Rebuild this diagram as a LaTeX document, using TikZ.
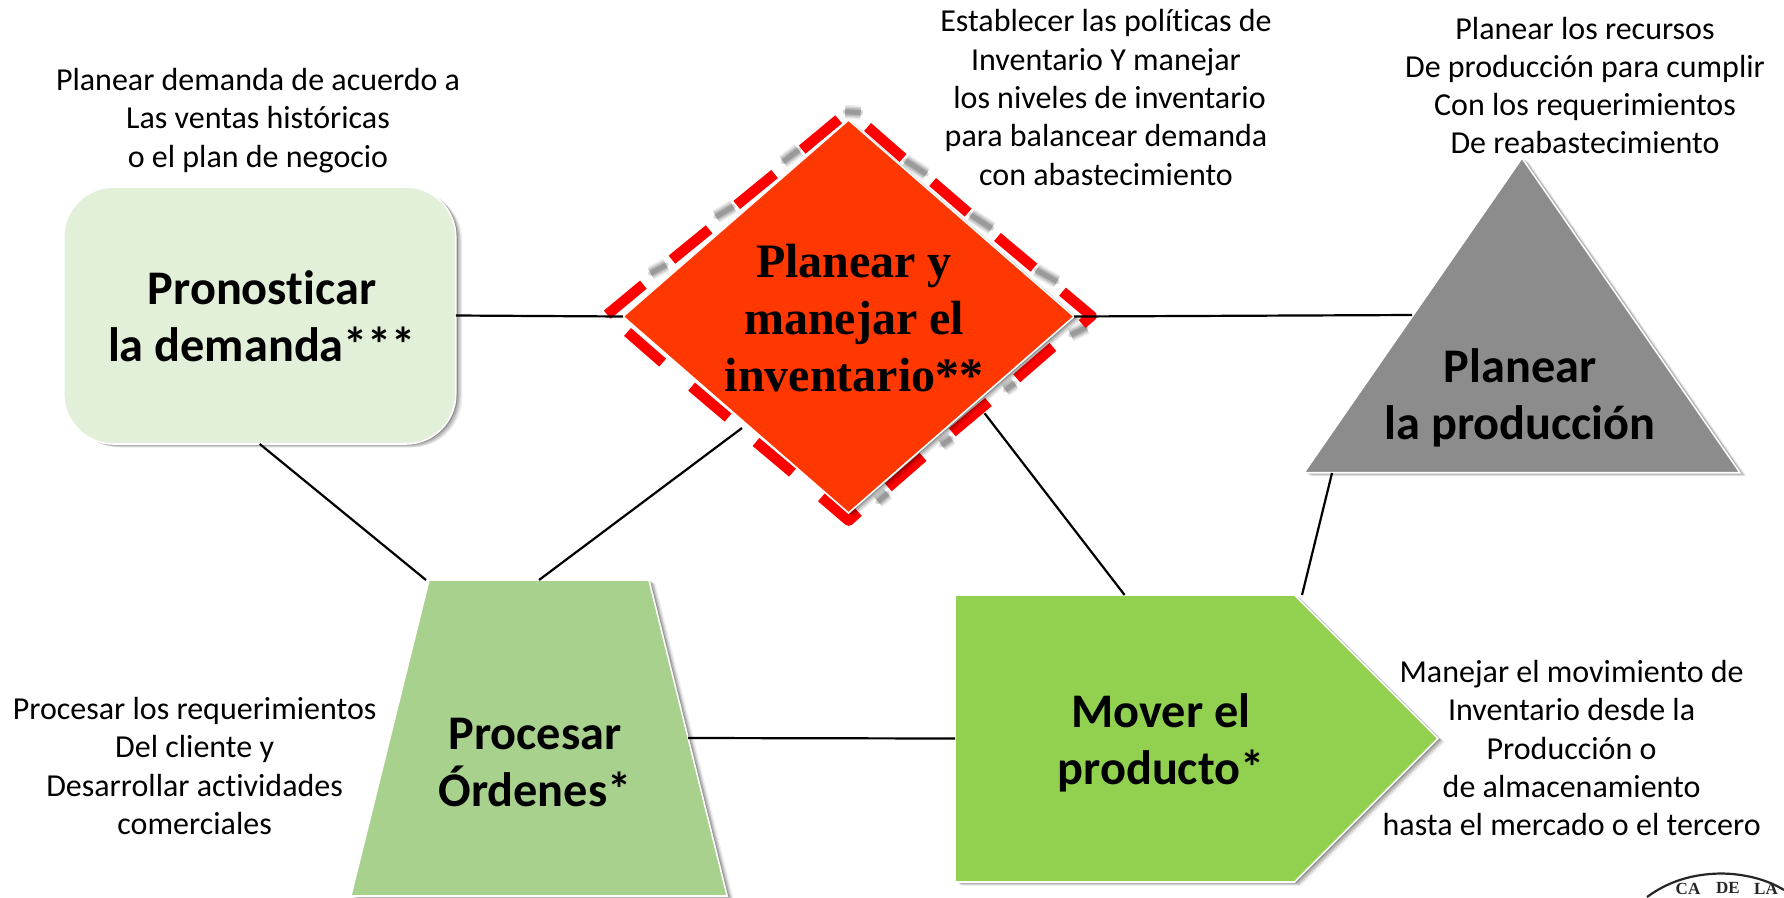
\documentclass[tikz,border=0pt]{standalone}
\usepackage{fontspec}
\setmainfont[Ligatures=NoCommon]{Carlito}
\newfontfamily\serifb{Liberation Serif}
\usetikzlibrary{shapes.geometric,shapes.symbols}
\definecolor{boxgreen}{HTML}{E2EFD9}
\definecolor{diaorange}{HTML}{FF3700}
\definecolor{tragreen}{HTML}{A9D18E}
\definecolor{trigray}{HTML}{8C8C8C}
\definecolor{arrgreen}{HTML}{92D050}
\tikzset{
  softshade/.style={
    preaction={draw=none,fill=black,fill opacity=.07,transform canvas={shift={(6.5pt,-3.5pt)}}},
    preaction={draw=none,fill=black,fill opacity=.10,transform canvas={shift={(5pt,-3pt)}}},
    preaction={draw=none,fill=black,fill opacity=.14,transform canvas={shift={(3.5pt,-2pt)}}},
    preaction={draw=none,fill=black,fill opacity=.2,transform canvas={shift={(2pt,-1pt)}}}},
  shapebox/.style={draw=white,line width=1.6pt,inner sep=0pt,outer sep=0pt,softshade},
  conn/.style={draw=black,line width=2.2pt},
  note/.style={align=center,font=\fontsize{32}{38.3}\selectfont,inner sep=0pt},
  title/.style={align=center,font=\fontsize{48.3}{57}\selectfont\bfseries,inner sep=0pt},
  dashr/.style={draw=red,line width=10.5pt,line join=round},
  dashs/.style={line cap=round,
     preaction={draw=black,draw opacity=.07,line width=14pt},
     preaction={draw=black,draw opacity=.10,line width=11pt},
     preaction={draw=black,draw opacity=.13,line width=8pt},
     draw=black,draw opacity=.16,line width=5pt},
  sealtext/.style={inner sep=0pt,font=\serifb\fontsize{17}{17}\selectfont\bfseries,text=black!85},
}
\begin{document}
\begin{tikzpicture}[x=1pt,y=1pt]
\useasboundingbox (0,0) rectangle (1784,-897);
\fill[white] (0,0) rectangle (1784,-897);

% dashed frame of the diamond, in the crop's coordinates
\begin{scope}[shift={(580,-100)},x=0.3444pt,y=-0.3333pt]
  \foreach \a/\b/\c/\d in {770/35/815/38, 945/182/1005/222, 1135/345/1195/385, 1325/510/1385/545, 1425/705/1470/682,
     1235/870/1262/850, 1050/1035/1078/1015, 865/1205/893/1180, 590/185/635/150, 395/350/445/320, 205/520/250/495}
    \draw[dashs] (\a,\b) -- (\c,\d);
  \foreach \a/\b/\c/\d in {645/149/751/58, 455/315/565/222, 267/479/375/388, 79/644/184/554,
     138/696/240/788, 324/860/430/953, 511/1026/617/1118,
     895/1162/996/1071, 1081/997/1186/906, 1268/835/1373/741,
     1212/411/1318/503, 1024/246/1127/338, 835/81/938/174}
    \draw[dashr] (\a,\b) -- (\c,\d);
  \draw[dashr] (701,1192) -- (780,1262) -- (808,1236);
  \draw[dashr] (1401,575) -- (1485,648) -- (1458,672);
\end{scope}

% shapes
\node[shapebox,fill=boxgreen,rounded corners=50pt,minimum width=392pt,minimum height=257pt] (box) at (259.75,-315.5) {\strut};
\node[shapebox,fill=diaorange,diamond,minimum width=451pt,minimum height=393pt,aspect=1.15] (dia) at (848.5,-316.5) {\strut};
\begin{scope}
  \clip (0,0) rectangle (1784,-897);
  \node[shapebox,fill=tragreen,trapezium,trapezium left angle=76.1,trapezium right angle=76.1] (tra) at (539,-738) {\phantom{\rule{220pt}{316pt}}};
\end{scope}
\node[shapebox,fill=trigray,isosceles triangle,isosceles triangle stretches=true,shape border rotate=90,minimum width=436pt,minimum height=314.7pt,anchor=lower side] (tri) at (1522,-472.7) {\strut};
\node[shapebox,fill=arrgreen,signal,signal to=east,signal pointer angle=90,minimum width=483pt,minimum height=287pt,anchor=west] (arr) at (955,-738.5) {\strut};

% free ends of connectors
\coordinate (diaSW) at (742,-428);
\coordinate (diaSE) at (984.6,-413.3);
\coordinate (arrA) at (1124.6,-595);
\coordinate (arrB) at (1302,-595);
\coordinate (triB) at (1332,-473);
\coordinate (triL) at (1412,-315);
\coordinate (traL) at (426,-580);

% connectors
\draw[conn] (box.east) -- (dia.west);
\draw[conn] (box.south) -- (traL);
\draw[conn] (tra.north) -- (diaSW);
\draw[conn] (diaSE) -- (arrA);
\draw[conn] (dia.east) -- (triL);
\draw[conn] (tra.east) -- (arr.west);
\draw[conn] (arrB) -- (triB);

% titles
\node[title] (tBox) at (262,-316) {Pronosticar\\la demanda***};
\node[align=center,inner sep=0pt,font=\serifb\fontsize{48}{57}\selectfont\bfseries] (tDia) at (854,-318) {Planear y\\manejar el\\inventario**};
\node[title] (tTra) at (535,-763) {Procesar\\Órdenes*};
\node[title] (tArr) at (1161,-743) {Mover el\\producto*};
\node[title] (tTri) at (1520,-398) {Planear\\la producción};

% notes
\node[note] (nBox) at (258,-120.5) {Planear demanda de acuerdo a\\Las ventas históricas\\o el plan de negocio};
\node[note] (nDia) at (1106,-97.5) {Establecer las políticas de\\Inventario Y manejar\\\hspace*{7pt}los niveles de inventario\\para balancear demanda\\con abastecimiento};
\node[note] (nTri) at (1585,-85.5) {Planear los recursos\\De producción para cumplir\\Con los requerimientos\\De reabastecimiento};
\node[note] (nTra) at (194.6,-766) {Procesar los requerimientos\\Del cliente y\\Desarrollar actividades\\comerciales};
\node[note] (nArr) at (1571.6,-748) {Manejar el movimiento de\\Inventario desde la\\Producción o\\de almacenamiento\\hasta el mercado o el tercero};

% seal fragment
\begin{scope}
  \clip (0,0) rectangle (1784,-897);
  \draw[line width=2.2pt,black!85] (1647,-897) .. controls (1670,-880) and (1695,-874) .. (1720,-873.5) .. controls (1745,-873.5) and (1768,-880) .. (1784,-890);
  \node[sealtext] (sa) at (1688,-889) {CA};
  \node[sealtext] (sb) at (1728,-888) {DE};
  \node[sealtext] (sc) at (1766,-889) {LA};
\end{scope}
\end{tikzpicture}
\end{document}
